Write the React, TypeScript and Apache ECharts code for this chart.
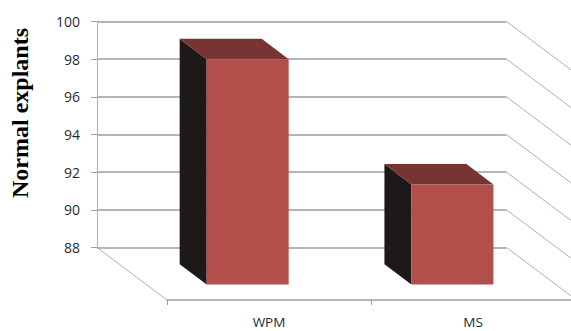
import React, { useEffect, useRef } from "react";
import * as echarts from "echarts";

// Percentage of normal explants per culture medium
const categories = ["WPM", "MS"];
const normalExplants = [98, 91.35];
const axisMin = 88;
const axisMax = 100;
const axisStep = 2;
const wallLevels = [88, 90, 92, 94, 96, 98, 100];

// Oblique projection of the box: how far the floor and the bars reach towards the viewer
const FLOOR_DX = 70;
const FLOOR_DY = 52.5;
const BAR_DEPTH_X = 27;
const BAR_DEPTH_Y = 20.3;
const BAR_WIDTH = 82;
const BAR_SHIFT = 48.3;
const BAR_DROP = 37;

const LINE_GREY = "#95a1a1";
const DIAGONAL_GREY = "#aab1b1";
const LABEL_COLOR = "#232c32";
const LABEL_FONT = "'Open Sans', sans-serif";

function renderWallDiagonal(params: any, api: any) {
  const rect = params.coordSys;
  const level = api.value(1);
  const y = api.coord([0, level])[1];
  const lines: any[] = [
    {
      type: "line",
      shape: { x1: rect.x + rect.width, y1: y, x2: rect.x + rect.width + FLOOR_DX, y2: y + FLOOR_DY },
      style: { stroke: DIAGONAL_GREY, lineWidth: 1 },
    },
  ];
  if (level === axisMin) {
    lines.push({
      type: "line",
      shape: { x1: rect.x, y1: y, x2: rect.x + FLOOR_DX, y2: y + FLOOR_DY },
      style: { stroke: DIAGONAL_GREY, lineWidth: 1 },
    });
  }
  return { type: "group", children: lines };
}

function renderBar(_params: any, api: any) {
  const top = api.coord([api.value(0), api.value(1)]);
  const base = api.coord([api.value(0), axisMin]);
  const left = top[0] + BAR_SHIFT - BAR_WIDTH / 2;
  const right = left + BAR_WIDTH;
  const yTop = top[1];
  const yBottom = base[1] + BAR_DROP;
  const backLeft = left - BAR_DEPTH_X;
  const backRight = right - BAR_DEPTH_X;
  const backTop = yTop - BAR_DEPTH_Y;
  const backBottom = yBottom - BAR_DEPTH_Y;
  return {
    type: "group",
    children: [
      {
        type: "polygon",
        shape: { points: [[backLeft, backTop], [left, yTop], [left, yBottom], [backLeft, backBottom]] },
        style: { fill: "#1d1918" },
      },
      {
        type: "polygon",
        shape: { points: [[backLeft, backTop], [backRight, backTop], [right, yTop], [left, yTop]] },
        style: { fill: "#783432" },
      },
      {
        type: "rect",
        shape: { x: left, y: yTop, width: BAR_WIDTH, height: yBottom - yTop },
        style: { fill: "#b34f4b" },
      },
    ],
  };
}

export default function App() {
  const ref = useRef<HTMLDivElement>(null);

  useEffect(() => {
    const chart = echarts.init(ref.current!, null, { renderer: "svg" });
    chart.setOption({
      animation: false,
      backgroundColor: "#ffffff",
      grid: [
        { left: 97, top: 21.5, width: 409.5, height: 226 },
        { left: 167, top: 100, width: 408, height: 200 },
      ],
      xAxis: [
        { type: "category", gridIndex: 0, data: categories, show: false },
        {
          type: "category",
          gridIndex: 1,
          data: categories,
          axisLine: { lineStyle: { color: LINE_GREY, width: 1.5 } },
          axisTick: { show: true, length: 5, lineStyle: { color: LINE_GREY } },
          axisLabel: { color: LABEL_COLOR, fontFamily: LABEL_FONT, fontSize: 13.5, margin: 15 },
        },
      ],
      yAxis: [
        {
          type: "value",
          gridIndex: 0,
          min: axisMin,
          max: axisMax,
          interval: axisStep,
          axisLine: { show: true, lineStyle: { color: DIAGONAL_GREY, width: 1 } },
          axisTick: { show: true, length: 6, lineStyle: { color: LINE_GREY } },
          axisLabel: { color: LABEL_COLOR, fontFamily: LABEL_FONT, fontSize: 14, margin: 17 },
          splitLine: { show: true, lineStyle: { color: LINE_GREY, width: 1.5 } },
        },
        { type: "value", gridIndex: 1, min: axisMin, max: axisMax, show: false },
      ],
      series: [
        {
          type: "custom",
          name: "wall",
          xAxisIndex: 0,
          yAxisIndex: 0,
          z: 1,
          clip: false,
          silent: true,
          renderItem: renderWallDiagonal,
          data: wallLevels.map((level) => [0, level]),
        },
        {
          type: "custom",
          name: "Normal explants",
          xAxisIndex: 0,
          yAxisIndex: 0,
          z: 3,
          clip: false,
          renderItem: renderBar,
          data: categories.map((_, i) => [i, normalExplants[i]]),
        },
      ],
      graphic: [
        {
          type: "text",
          x: 20,
          y: 113,
          rotation: Math.PI / 2,
          style: {
            text: "Normal explants",
            fill: "#000000",
            font: "bold 24px 'Liberation Serif', serif",
            align: "center",
            verticalAlign: "middle",
          },
        },
      ],
    });
    return () => chart.dispose();
  }, []);

  // The floor axis runs on past the right edge of the page, so the canvas is wider than its frame
  return (
    <div style={{ position: "absolute", left: 0, top: 0, width: 571, height: 331, overflow: "hidden" }}>
      <div ref={ref} style={{ width: 600, height: 331 }} />
    </div>
  );
}
